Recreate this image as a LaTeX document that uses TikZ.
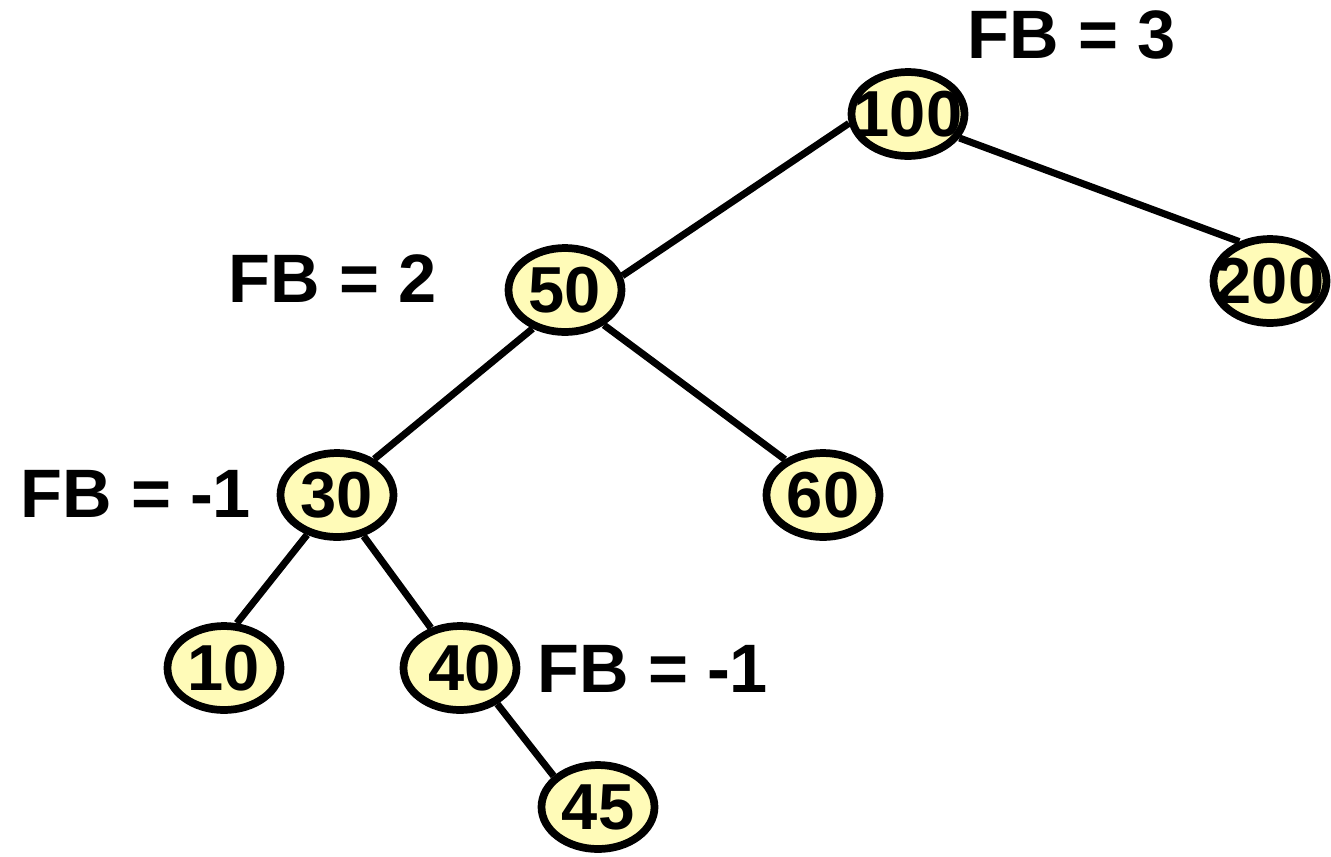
\documentclass[tikz,border=0pt]{standalone}
\usepackage{mathtools}
\usepackage{fontspec}
\setmainfont{Liberation Sans}
\usepackage{tikz}
\usetikzlibrary{shapes.geometric}
\usepackage{xcolor}
\definecolor{key-yellow}{RGB}{255,251,184}

\begin{document}
\begin{tikzpicture}[
		keynode/.style={ellipse, draw, fill=key-yellow, line width=2.2pt, minimum width=1.13cm, minimum height=0.84cm, inner sep=0pt, font=\bfseries\fontsize{18.5}{20}\selectfont},
		fblabel/.style={anchor=base west, inner sep=0pt, font=\bfseries\fontsize{19.5}{22}\selectfont},
		branch/.style={line width=2pt}
	]
					\useasboundingbox (0,0) rectangle (13.31,8.56);
					
					\node[keynode] at (9.08, 7.42) (k100) {\clap{100}};
					\node[keynode] at (12.70, 5.75) (k200) {\clap{200}};
					\node[keynode] at (5.65, 5.66) (k50) {\clap{50}};
					\node[keynode] at (3.37, 3.61) (k30) {\clap{30}};
					\node[keynode] at (8.23, 3.61) (k60) {\clap{60}};
					\node[keynode] at (2.24, 1.88) (k10) {\clap{10}};
					\node[keynode] at (4.60, 1.88) (k40) {\clap{\hspace{0.1cm}40}};
					\node[keynode] at (5.98, 0.49) (k45) {\clap{45}};
					
					\node[fblabel] at (9.67, 7.98) (fb100) {FB = 3};
					\node[fblabel] at (2.28, 5.54) (fb50) {FB = 2};
					\node[fblabel] at (0.20, 3.39) (fb30) {FB = -1};
					\node[fblabel] at (5.37, 1.64) (fb40) {FB = -1};
					
					\draw[branch] (k100.189) -- (k50.14);
					\draw[branch] (k100.335) -- (k200.128);
					\draw[branch] (k50.230) -- (k30.44);
					\draw[branch] (k50.318) -- (k60.137);
					\draw[branch] (k30.233) -- (k10.74);
					\draw[branch] (k30.303) -- (k40.126);
					\draw[branch] (k40.316) -- (k45.145);
				\end{tikzpicture}
\end{document}
